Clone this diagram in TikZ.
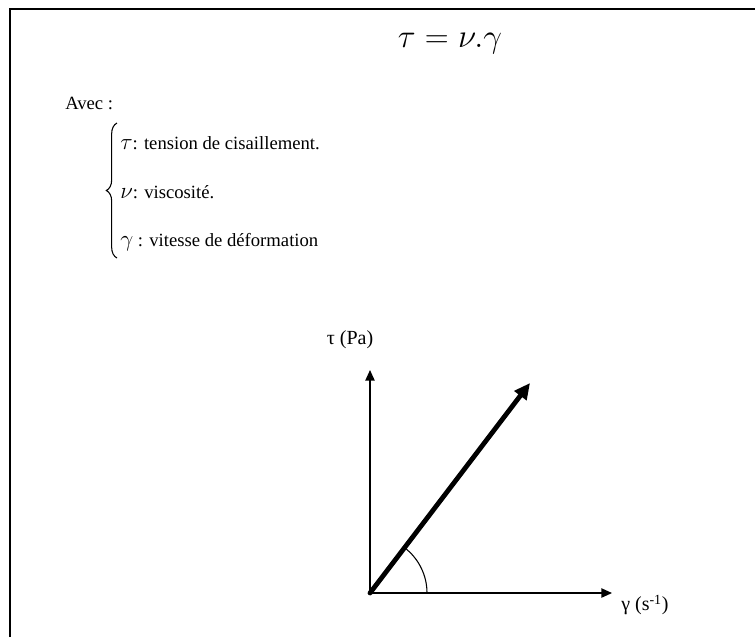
\documentclass[tikz,border=0pt]{standalone}
\usepackage{amsmath}
\usepackage{fontspec}
\setmainfont{Liberation Serif}
\usetikzlibrary{arrows.meta,decorations.pathreplacing}

\begin{document}
\begin{tikzpicture}[
  x=0.75pt, y=-0.75pt,
  texte/.style={font=\fontsize{14}{16}\selectfont, inner sep=0pt},
  axe/.style={line width=1.1pt, -{Triangle[length=8pt, width=7pt]}},
  vecteur/.style={line width=3.6pt, -{Triangle[length=12pt, width=11pt]}, line cap=round}
]
\useasboundingbox (0,0) rectangle (755,637);
% cadre
\draw[line width=1.6pt] (10,637) -- (10,9) -- (755,9);
% equation
\node[inner sep=0pt, font=\fontsize{27}{30}\selectfont] (eq) at (450,44) {$\tau = \nu.\gamma$};
% legende
\node[texte, anchor=base west] (avec) at (65,109) {Avec :};
\node[texte, anchor=base west] (l1) at (120,149) {{\fontsize{18}{18}\selectfont$\tau$}: tension de cisaillement.};
\node[texte, anchor=base west] (l2) at (120,198) {{\fontsize{18}{18}\selectfont$\nu$}: viscosité.};
\node[texte, anchor=base west] (l3) at (120,246) {{\fontsize{18}{18}\selectfont$\gamma$} : vitesse de déformation};
\coordinate (bh) at (117,123);
\coordinate (bb) at (117,258);
\draw[line width=0.8pt, decorate, decoration={brace, amplitude=8pt}] (bb) -- (bh);
% axes
\coordinate (O) at (370,593);
\coordinate (ytip) at (370,370);
\coordinate (xtip) at (612,593);
\coordinate (vtip) at (530,383);
\draw[axe] (O) -- (ytip);
\draw[axe] (O) -- (xtip);
\draw[vecteur] (O) -- (vtip);
\draw[line width=0.8pt] (O) ++(-52.7:57) arc[start angle=-52.7, end angle=0, radius=57];
\node[texte, font=\fontsize{15}{17}\selectfont] (ylab) at (350,340) {τ (Pa)};
\node[texte, font=\fontsize{15}{17}\selectfont, anchor=west] (xlab) at (621,605) {γ (s\textsuperscript{-1})};
\end{tikzpicture}
\end{document}
